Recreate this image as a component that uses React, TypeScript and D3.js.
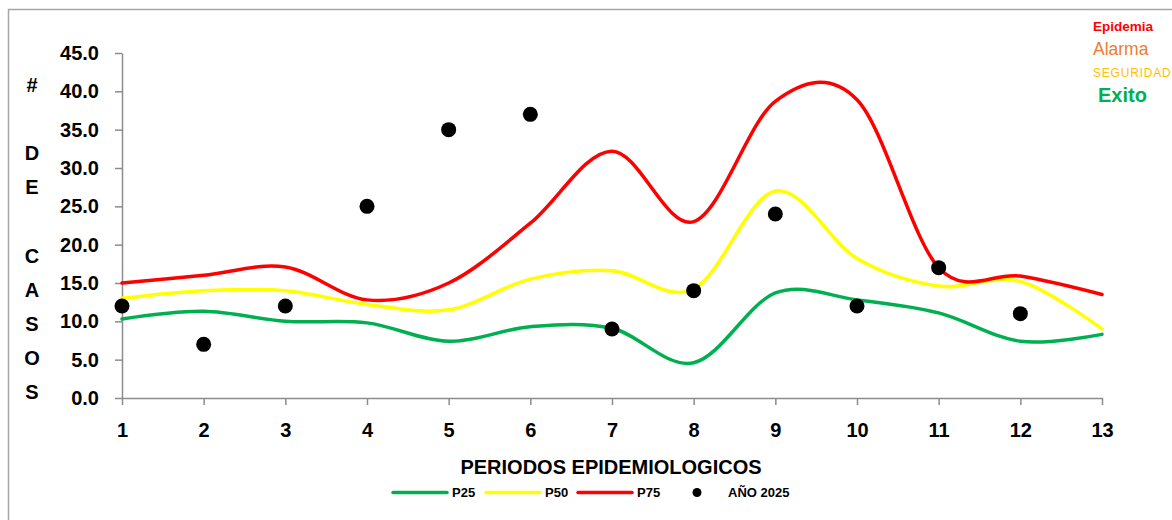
import { useRef, useEffect } from "react"
import * as d3 from "d3"

const periods = [1, 2, 3, 4, 5, 6, 7, 8, 9, 10, 11, 12, 13]
const p25 = [10.3, 11.3, 10.0, 9.8, 7.4, 9.3, 9.1, 4.6, 13.7, 12.8, 11.1, 7.4, 8.3]
const p50 = [13.0, 14.0, 14.0, 12.2, 11.5, 15.5, 16.6, 14.2, 27.0, 18.2, 14.6, 15.2, 9.0]
const p75 = [15.0, 16.0, 17.1, 12.8, 15.0, 22.8, 32.2, 23.0, 38.7, 38.9, 17.0, 15.9, 13.5]
const anio2025 = [12, 7, 12, 25, 35, 37, 9, 14, 24, 12, 17, 11]
const yTicks = [0, 5, 10, 15, 20, 25, 30, 35, 40, 45]
const yTitle = ["#", "", "D", "E", "", "C", "A", "S", "O", "S"]

const series = [
  { name: "P25", values: p25, color: "#00B050" },
  { name: "P50", values: p50, color: "#FFFF00" },
  { name: "P75", values: p75, color: "#FF0000" },
]

const zones = [
  { label: "Epidemia", color: "#FF0000", size: 13.5, weight: "bold", x: 1093, y: 30.5, spacing: 0 },
  { label: "Alarma", color: "#ED7D31", size: 17.5, weight: "normal", x: 1093, y: 54.5, spacing: 0 },
  { label: "SEGURIDAD", color: "#FFC000", size: 12, weight: "normal", x: 1093, y: 77, spacing: 0.8 },
  { label: "Exito", color: "#00B050", size: 20, weight: "bold", x: 1098, y: 101.5, spacing: 0 },
]

const FONT = "'Liberation Sans', Arial, sans-serif"
const AXIS = "#8C8C8C"

const App = () => {
  const svgRef = useRef<SVGSVGElement>(null)

  useEffect(() => {
    const svg = d3.select(svgRef.current)
    svg.selectAll("*").remove()

    const x = d3.scaleLinear().domain([1, 13]).range([122, 1102])
    const y = d3.scaleLinear().domain([0, 45]).range([398, 53])

    // chart frame
    svg
      .append("path")
      .attr("d", "M8.5,530 L8.5,9.5 L1180,9.5")
      .attr("fill", "none")
      .attr("stroke", "#A6A6A6")
      .attr("stroke-width", 1.5)

    // Y axis
    const yAxis = svg
      .append("g")
      .attr("transform", `translate(${x(1)},0)`)
      .call(
        d3
          .axisLeft(y)
          .tickValues(yTicks)
          .tickSize(7)
          .tickSizeOuter(0)
          .tickPadding(16)
          .tickFormat((d) => d3.format(".1f")(d as number)),
      )
    yAxis.selectAll("path, line").attr("stroke", AXIS).attr("stroke-width", 1.5)
    yAxis
      .selectAll("text")
      .attr("font-family", FONT)
      .attr("font-size", 20)
      .attr("font-weight", "bold")
      .attr("fill", "#000")

    // X axis
    const xAxis = svg
      .append("g")
      .attr("transform", `translate(0,${y(0)})`)
      .call(
        d3
          .axisBottom(x)
          .tickValues(periods)
          .tickSize(7)
          .tickSizeOuter(0)
          .tickPadding(18)
          .tickFormat((d) => String(d)),
      )
    xAxis.selectAll("path, line").attr("stroke", AXIS).attr("stroke-width", 1.5)
    xAxis
      .selectAll("text")
      .attr("font-family", FONT)
      .attr("font-size", 20)
      .attr("font-weight", "bold")
      .attr("fill", "#000")

    // Y title, one letter per row
    svg
      .append("g")
      .selectAll("text")
      .data(yTitle)
      .enter()
      .append("text")
      .attr("x", 32)
      .attr("y", (_, i) => 92 + i * 34.1)
      .attr("text-anchor", "middle")
      .attr("font-family", FONT)
      .attr("font-size", 20)
      .attr("font-weight", "bold")
      .text((d) => d)

    // X title
    svg
      .append("text")
      .attr("x", 611)
      .attr("y", 474)
      .attr("text-anchor", "middle")
      .attr("font-family", FONT)
      .attr("font-size", 20)
      .attr("font-weight", "bold")
      .text("PERIODOS EPIDEMIOLOGICOS")

    // Lines
    const line = d3
      .line<number>()
      .x((_, i) => x(periods[i]))
      .y((d) => y(d))
      .curve(d3.curveCardinal.tension(0))

    series.forEach((s) => {
      svg
        .append("path")
        .attr("d", line(s.values))
        .attr("fill", "none")
        .attr("stroke", s.color)
        .attr("stroke-width", 3.5)
        .attr("stroke-linecap", "round")
    })

    // Dots
    svg
      .append("g")
      .selectAll("circle")
      .data(anio2025)
      .enter()
      .append("circle")
      .attr("cx", (_, i) => x(periods[i]))
      .attr("cy", (d) => y(d))
      .attr("r", 7.5)
      .attr("fill", "#000")

    // Bottom legend
    const legY = 492.5
    const legend = svg.append("g")
    const legStarts = [393, 486, 578]
    series.forEach((s, i) => {
      legend
        .append("line")
        .attr("x1", legStarts[i])
        .attr("x2", legStarts[i] + 54)
        .attr("y1", legY)
        .attr("y2", legY)
        .attr("stroke", s.color)
        .attr("stroke-width", 3.5)
        .attr("stroke-linecap", "round")
      legend
        .append("text")
        .attr("x", legStarts[i] + 59)
        .attr("y", legY + 4.7)
        .attr("font-family", FONT)
        .attr("font-size", 13)
        .attr("font-weight", "bold")
        .text(s.name)
    })
    legend.append("circle").attr("cx", 697).attr("cy", legY).attr("r", 4.5).attr("fill", "#000")
    legend
      .append("text")
      .attr("x", 728)
      .attr("y", legY + 4.7)
      .attr("font-family", FONT)
      .attr("font-size", 13)
      .attr("font-weight", "bold")
      .text("AÑO 2025")

    // Zone labels at top right
    svg
      .append("g")
      .selectAll("text")
      .data(zones)
      .enter()
      .append("text")
      .attr("x", (d) => d.x)
      .attr("y", (d) => d.y)
      .attr("font-family", FONT)
      .attr("font-size", (d) => d.size)
      .attr("font-weight", (d) => d.weight)
      .attr("letter-spacing", (d) => d.spacing)
      .attr("fill", (d) => d.color)
      .text((d) => d.label)
  }, [])

  return (
    <svg
      ref={svgRef}
      width={1172}
      height={520}
      style={{ position: "absolute", left: 0, top: 0, background: "#fff" }}
    ></svg>
  )
}

export default App
